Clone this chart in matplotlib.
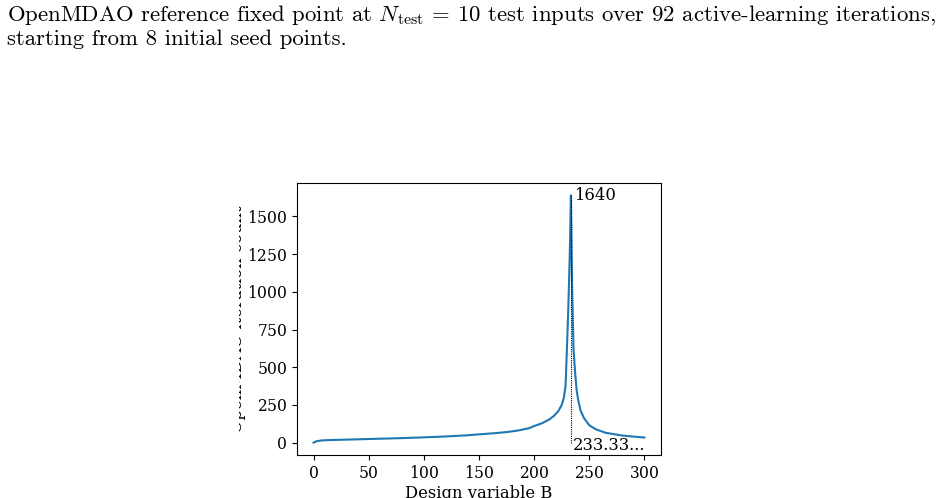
import matplotlib
matplotlib.use("Agg")
import matplotlib.pyplot as plt
from matplotlib.transforms import Bbox, TransformedBbox

# Data
design_b = [0, 3, 8, 15, 25, 40, 50, 65, 80, 100, 120, 140, 150, 165, 175, 185,
            195, 200, 207, 214, 218, 222, 225, 227, 228.5, 229.8, 231, 232.3,
            233.33, 234.5, 235.7, 237.2, 238.5, 240, 242, 245, 250, 256, 265,
            280, 290, 300]
iterations = [0, 10, 15, 17, 19, 22, 24, 27, 30, 35, 41, 49, 55, 63, 70, 80,
              95, 110, 128, 155, 178, 210, 250, 300, 380, 640, 900, 1250,
              1640, 1000, 620, 460, 350, 280, 215, 165, 115, 88, 65,
              47, 40, 34]
peak_b = 233.33
peak_val = 1640
peak_label = "1640"
peak_b_label = "233.33..."
caption = ("OpenMDAO reference fixed point at $N_{\\mathrm{test}}$ = 10 test inputs over 92 active-learning iterations,\n"
           "starting from 8 initial seed points.")
xlabel = "Design variable B"
ylabel = "OpenMDAO iteration count"

plt.rcParams['mathtext.fontset'] = 'cm'
plt.rcParams['axes.formatter.use_mathtext'] = True

FS = 11.2
LFS = 11.8
fig = plt.figure(figsize=(9.5, 4.98), dpi=100)
W, H = 950, 498
ax = fig.add_axes([297 / W, 1 - 455 / H, (661 - 297) / W, (455 - 183) / H])

ax.plot(design_b, iterations, color="#1f77b4", lw=1.5)
ax.plot([peak_b, peak_b], [0, peak_val], color="black", lw=0.8, ls=(0, (1, 1)))
ax.annotate(peak_label, (peak_b, peak_val), xytext=(2, 0), textcoords="offset points",
            ha="left", va="center", family="DejaVu Serif", fontsize=LFS)
ax.annotate(peak_b_label, (peak_b, 0), xytext=(1.5, 4), textcoords="offset points",
            ha="left", va="top", family="DejaVu Serif", fontsize=LFS)

ax.set_xticks([0, 50, 100, 150, 200, 250, 300])
ax.set_yticks([0, 250, 500, 750, 1000, 1250, 1500])
for lab in ax.get_xticklabels() + ax.get_yticklabels():
    lab.set_family("DejaVu Serif")
    lab.set_fontsize(FS)
ax.set_xlabel(xlabel, family="DejaVu Serif", fontsize=LFS, labelpad=2)
yl = ax.set_ylabel(ylabel, family="DejaVu Serif", fontsize=LFS)
ax.yaxis.set_label_coords((246 - 297) / 364, 0.5)

# clip the y label like the reference (only the right part is visible)
yl.set_clip_box(TransformedBbox(Bbox.from_extents(239 / W, 0, 300 / W, 1), fig.transFigure))
yl.set_clip_on(True)

fig.text(7 / W, 1 - 3 / H, caption, ha="left", va="top", family="cmr10",
         fontsize=16.4, linespacing=1.2)

fig.savefig("out.png", dpi=100)
